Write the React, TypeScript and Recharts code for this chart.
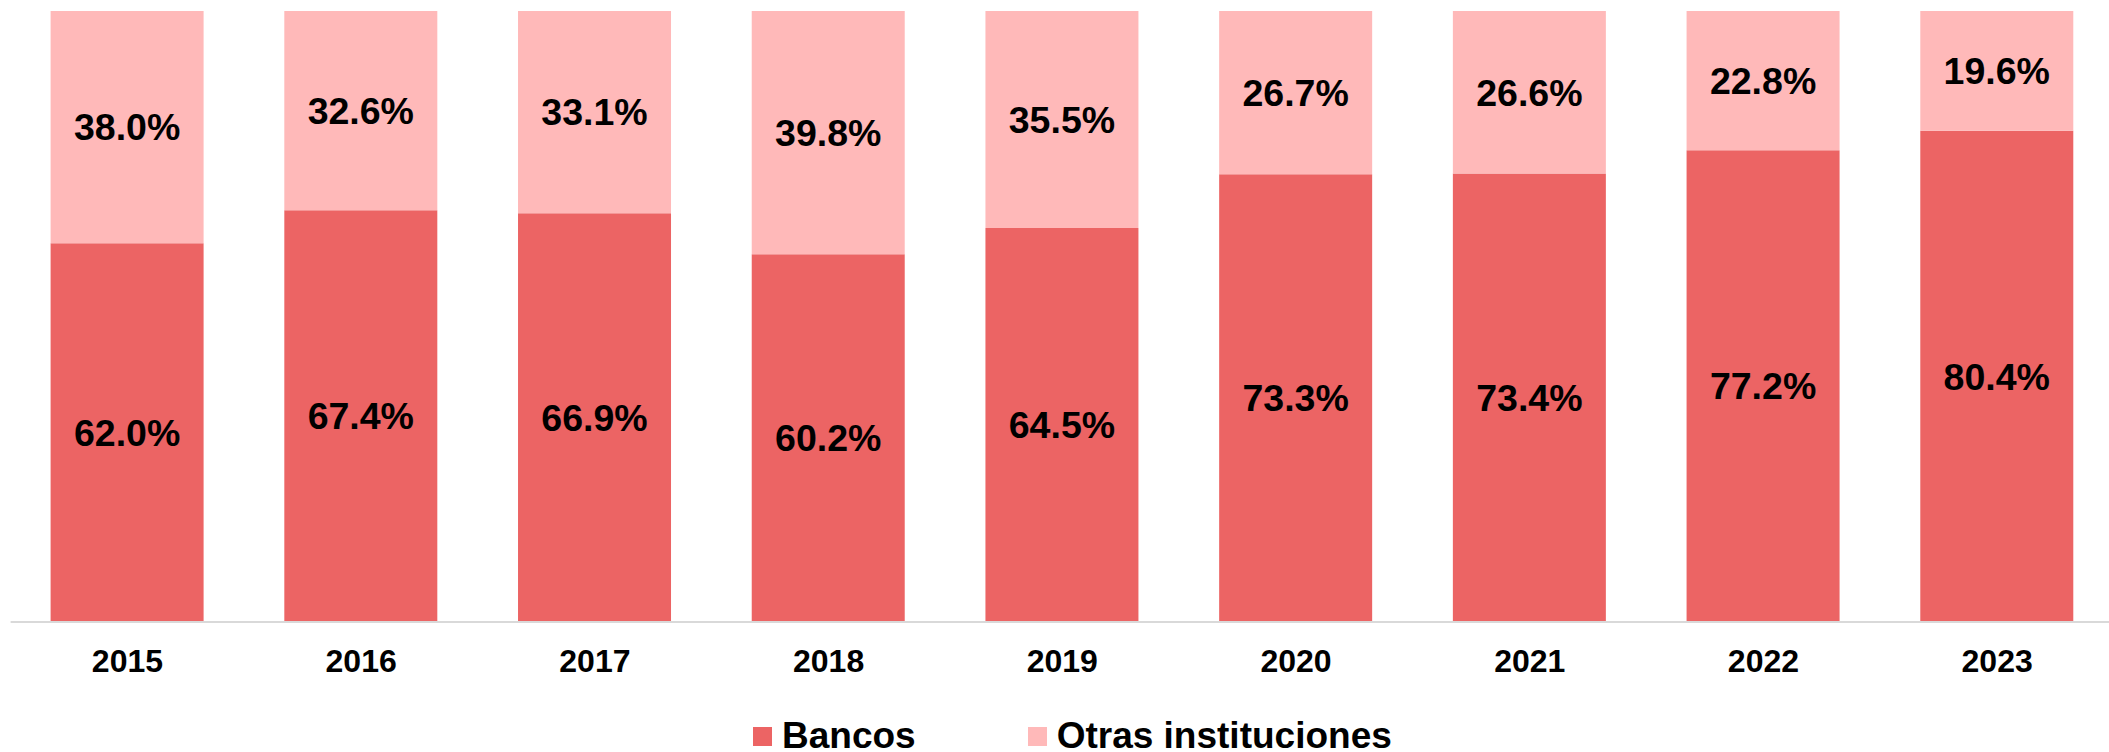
import React from 'react';
import { BarChart, Bar, XAxis, YAxis, Legend, LabelList } from 'recharts';

const years = ['2015', '2016', '2017', '2018', '2019', '2020', '2021', '2022', '2023'];
const bancos = [62.0, 67.4, 66.9, 60.2, 64.5, 73.3, 73.4, 77.2, 80.4];
const otras = [38.0, 32.6, 33.1, 39.8, 35.5, 26.7, 26.6, 22.8, 19.6];
const seriesNames = ['Bancos', 'Otras instituciones'];

const COLOR_BANCOS = '#EC6464';
const COLOR_OTRAS = '#FFB9B9';
const FONT = '"Liberation Sans", Arial, sans-serif';

const data = years.map((y, i) => ({ year: y, bancos: bancos[i], otras: otras[i] }));

const fmt = (v: any) => `${Number(v).toFixed(1)}%`;

const renderLegend = () => {
  const items = [
    { name: seriesNames[0], color: COLOR_BANCOS },
    { name: seriesNames[1], color: COLOR_OTRAS },
  ];
  return (
    <div style={{ display: 'flex', alignItems: 'center', paddingLeft: 753, height: 30 }}>
      {items.map((it, i) => (
        <div key={it.name} style={{ display: 'flex', alignItems: 'center', marginRight: i === 0 ? 112 : 0 }}>
          <div style={{ width: 19, height: 19, background: it.color, marginRight: 10 }} />
          <span style={{ fontFamily: FONT, fontWeight: 'bold', fontSize: 37, lineHeight: '30px', color: '#000' }}>{it.name}</span>
        </div>
      ))}
    </div>
  );
};

export default function App() {
  return (
    <div style={{ position: 'absolute', left: 0, top: 0, width: 2109, height: 752, overflow: 'hidden', background: '#fff' }}>
      <BarChart
        width={2114}
        height={752}
        data={data}
        margin={{ top: 11, right: 0, bottom: 70, left: 10.6 }}
        barSize={153}
      >
        <XAxis
          dataKey="year"
          height={60}
          axisLine={{ stroke: '#D9D9D9', strokeWidth: 2 }}
          tickLine={false}
          tickSize={0}
          tickMargin={27}
          interval={0}
          tick={{ fill: '#000', fontSize: 32, fontWeight: 'bold', fontFamily: FONT }}
        />
        <YAxis hide domain={[0, 100]} />
        <Legend
          verticalAlign="middle"
          align="center"
          layout="horizontal"
          content={renderLegend}
          wrapperStyle={{ top: 721, left: 0, width: 2114, height: 30 }}
        />
        <Bar dataKey="bancos" name={seriesNames[0]} stackId="a" fill={COLOR_BANCOS} isAnimationActive={false}>
          <LabelList dataKey="bancos" position="center" formatter={fmt} fill="#000" fontSize={37.5} fontWeight="bold" fontFamily={FONT} />
        </Bar>
        <Bar dataKey="otras" name={seriesNames[1]} stackId="a" fill={COLOR_OTRAS} isAnimationActive={false}>
          <LabelList dataKey="otras" position="center" formatter={fmt} fill="#000" fontSize={37.5} fontWeight="bold" fontFamily={FONT} />
        </Bar>
      </BarChart>
    </div>
  );
}
